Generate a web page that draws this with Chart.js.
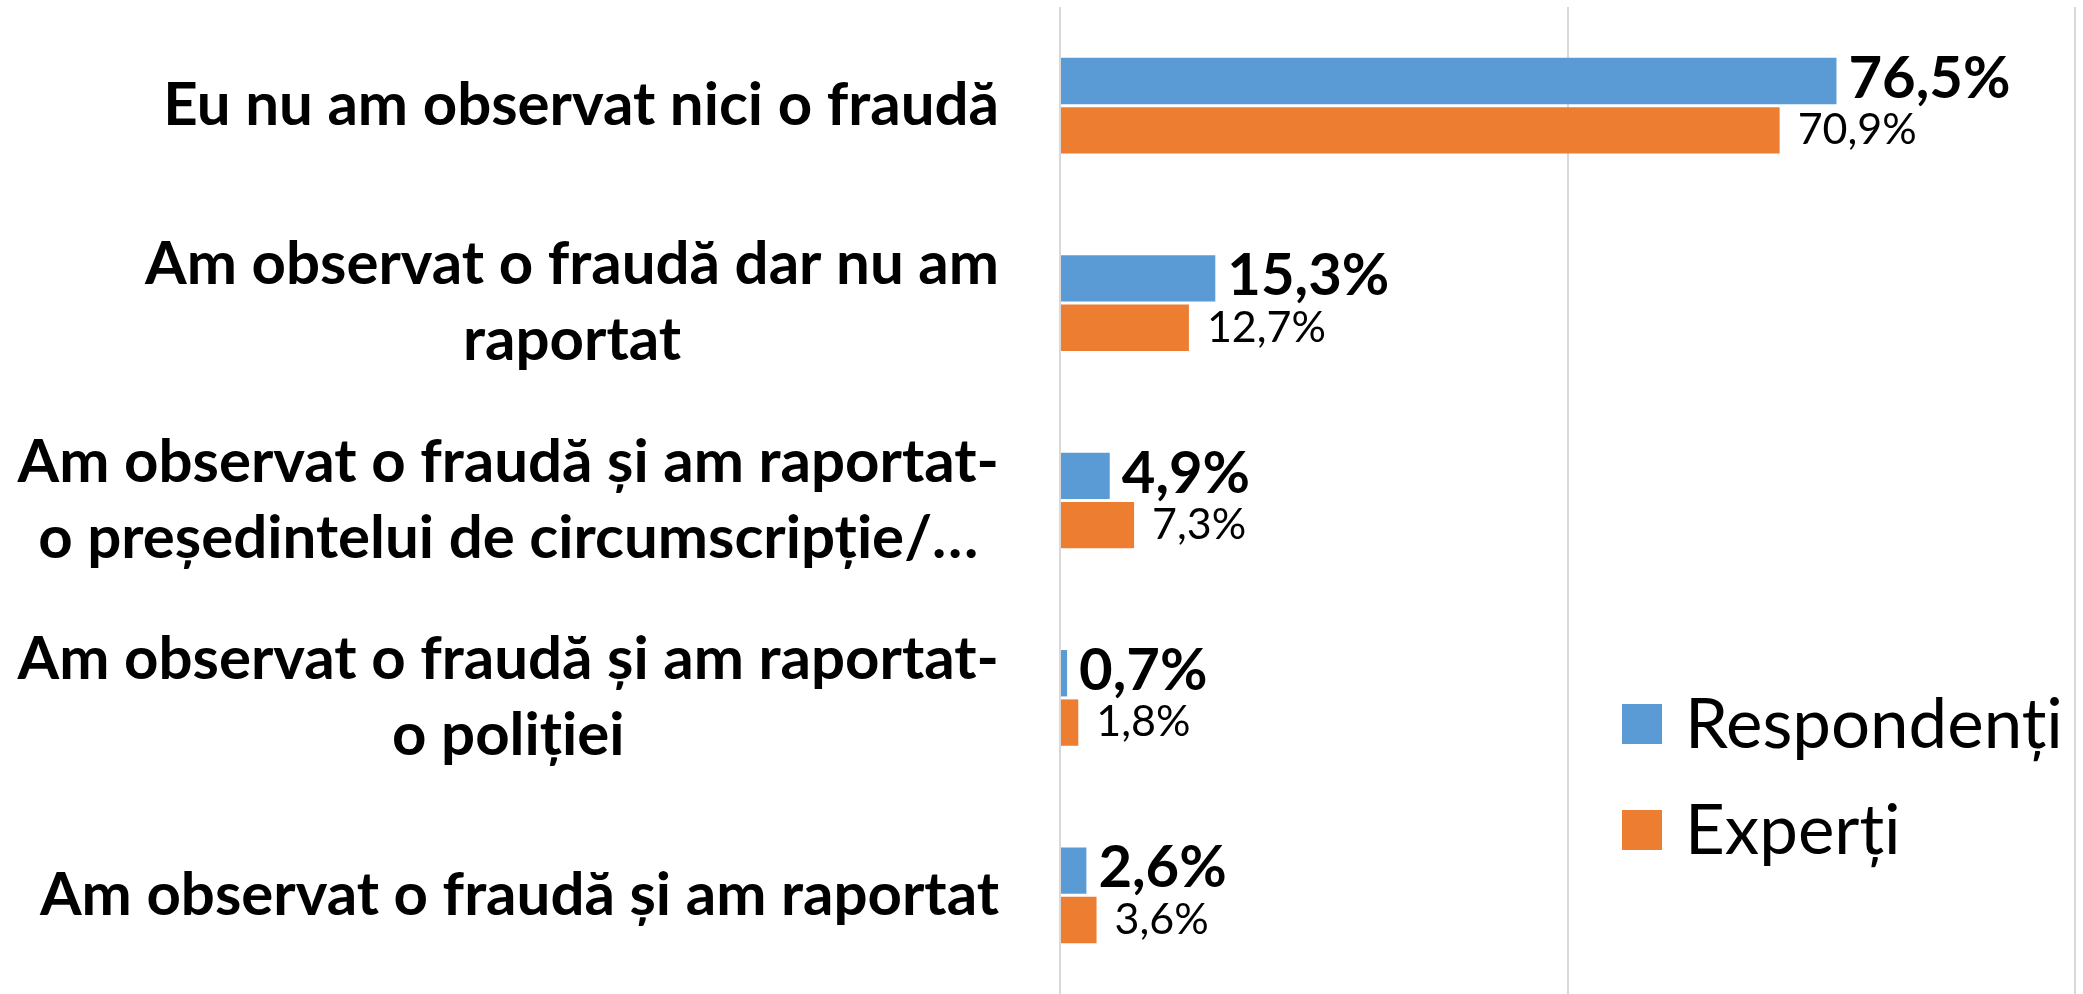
<!DOCTYPE html>
<html>
<head>
<meta charset="utf-8">
<script src="https://cdn.jsdelivr.net/npm/chart.js@4"></script>
<style>
  html, body { margin: 0; padding: 0; background: #fff; }
  #wrap { width: 2083px; height: 994px; }
</style>
</head>
<body>
<div id="wrap"><canvas id="c" width="2083" height="994"></canvas></div>
<script>
const categories = [
  ['Eu nu am observat nici o fraudă'],
  ['Am observat o fraudă dar nu am', 'raportat'],
  ['Am observat o fraudă și am raportat-', 'o președintelui de circumscripție/…'],
  ['Am observat o fraudă și am raportat-', 'o poliției'],
  ['Am observat o fraudă și am raportat']
];
const seriesNames = ['Respondenți', 'Experți'];
const respondenti = [76.5, 15.3, 4.9, 0.7, 2.6];
const experti = [70.9, 12.7, 7.3, 1.8, 3.6];
const colors = ['#5B9BD5', '#ED7D31'];

const FONT = 'Lato, "Open Sans", sans-serif';
const fmt = v => v.toFixed(1).replace('.', ',') + '%';

const drawExtras = {
  id: 'drawExtras',
  afterDatasetsDraw(chart) {
    const ctx = chart.ctx;
    chart.data.datasets.forEach((ds, di) => {
      chart.getDatasetMeta(di).data.forEach((bar, i) => {
        ctx.save();
        ctx.font = di === 0 ? `bold 58px ${FONT}` : `43px ${FONT}`;
        ctx.fillStyle = '#000';
        ctx.textBaseline = 'middle';
        ctx.textAlign = 'left';
        ctx.fillText(fmt(ds.data[i]), bar.x + (di === 0 ? 12 : 18), bar.y + (di === 0 ? -2 : 0));
        ctx.restore();
      });
    });
  },
  afterDraw(chart) {
    const ctx = chart.ctx;
    const y = chart.scales.y;
    // category labels: block right-aligned, lines centred inside block
    ctx.save();
    ctx.font = `bold 60px ${FONT}`;
    ctx.fillStyle = '#000';
    ctx.textBaseline = 'middle';
    ctx.textAlign = 'center';
    const right = y.right - 61;
    categories.forEach((lines, i) => {
      const yc = y.getPixelForTick(i);
      const w = Math.max(...lines.map(l => ctx.measureText(l).width));
      lines.forEach((l, j) => {
        ctx.fillText(l, right - w / 2, yc + (j - (lines.length - 1) / 2) * 76);
      });
    });
    ctx.restore();

    // legend inside the plot, lower right
    ctx.save();
    ctx.font = `69px ${FONT}`;
    ctx.textBaseline = 'middle';
    ctx.textAlign = 'left';
    chart.data.datasets.forEach((ds, di) => {
      const top = 704 + di * 106;
      ctx.fillStyle = ds.backgroundColor;
      ctx.fillRect(1622, top, 40, 40);
      ctx.fillStyle = '#000';
      ctx.fillText(ds.label, 1685, top + 22);
    });
    ctx.restore();
  }
};

new Chart(document.getElementById('c'), {
  type: 'bar',
  data: {
    labels: categories,
    datasets: [
      { label: seriesNames[0], data: respondenti, backgroundColor: colors[0] },
      { label: seriesNames[1], data: experti, backgroundColor: colors[1] }
    ]
  },
  options: {
    indexAxis: 'y',
    responsive: false,
    animation: false,
    devicePixelRatio: 1,
    layout: { padding: { top: 7, right: 8, bottom: 0, left: 0 } },
    datasets: { bar: { barPercentage: 0.94, categoryPercentage: 0.5 } },
    plugins: { legend: { display: false }, tooltip: { enabled: false } },
    scales: {
      x: {
        min: 0, max: 100,
        ticks: { display: false, stepSize: 50 },
        grid: { color: '#d9d9d9', lineWidth: 2, drawTicks: false },
        border: { display: false },
        afterFit: s => { s.height = 0; }
      },
      y: {
        ticks: { display: false },
        grid: { display: false },
        border: { display: false },
        afterFit: s => { s.width = 1060; }
      }
    }
  },
  plugins: [drawExtras]
});
</script>
</body>
</html>
